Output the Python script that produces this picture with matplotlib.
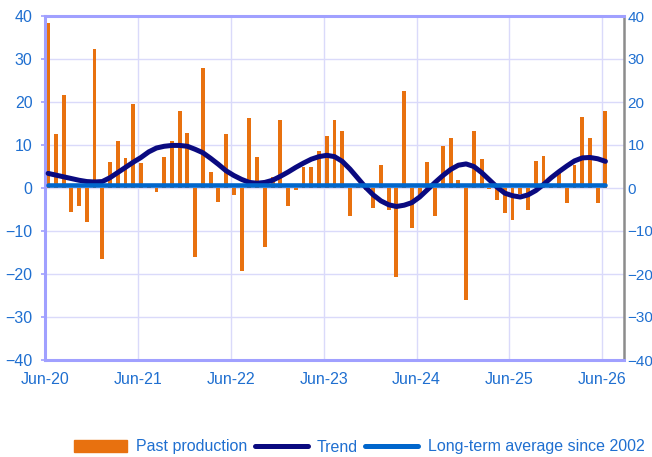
import matplotlib.pyplot as plt
import numpy as np
from matplotlib.patches import Patch
from matplotlib.lines import Line2D

plt.rcParams['font.family'] = ['Liberation Sans', 'DejaVu Sans']

# monthly values, Jun-20 .. Jun-26
production = [38.4, 12.5, 21.7, -5.5, -4.3, -7.8, 32.3, -16.6, 6.0, 10.9,
              7.0, 19.5, 5.7, 0.8, -1.0, 7.2, 10.9, 18.0, 12.8, -16.0,
              27.8, 3.7, -3.3, 12.5, -1.7, -19.4, 16.2, 7.2, -13.8, 2.6,
              15.9, -4.3, -0.5, 4.9, 4.9, 8.6, 12.0, 15.9, 13.2, -6.6,
              0.4, -0.4, -4.6, 5.3, -5.1, -20.8, 22.5, -9.2, -2.3, 6.0,
              -6.6, 9.7, 11.6, 1.8, -26.0, 13.2, 6.7, -0.3, -2.9, -5.8,
              -7.4, -1.5, -5.2, 6.3, 7.5, 0.5, 3.7, -3.5, 5.3, 16.5,
              11.6, -3.5, 18.0]
trend = [3.4, 3.0, 2.6, 2.2, 1.8, 1.5, 1.4, 1.5, 2.4, 3.6,
         4.8, 6.0, 7.1, 8.4, 9.3, 9.7, 9.9, 9.9, 9.7, 9.0,
         8.2, 6.9, 5.5, 4.0, 2.9, 2.0, 1.3, 1.1, 1.3, 1.8,
         2.7, 3.7, 4.8, 5.8, 6.7, 7.3, 7.6, 7.3, 6.2, 4.4,
         2.3, 0.2, -1.6, -3.0, -3.9, -4.3, -4.0, -3.4, -2.1, -0.4,
         1.3, 2.9, 4.3, 5.3, 5.6, 5.0, 3.6, 1.9, 0.2, -1.2,
         -1.8, -2.1, -1.6, -0.6, 0.8, 2.4, 3.8, 5.1, 6.3, 7.0,
         7.1, 6.8, 6.2]
long_term_avg = 0.7
tick_labels = ["Jun-20", "Jun-21", "Jun-22", "Jun-23", "Jun-24", "Jun-25", "Jun-26"]

orange = '#E8710F'
navy = '#0A0A80'
blue = '#0066CC'
lav = '#A0A0FF'
txt = '#1F6FD0'
fs = 11.5

x = np.arange(len(production)) + 0.4

fig = plt.figure(figsize=(6.52, 4.57), dpi=100)
ax = fig.add_axes([45/652, 1-360/457, (624-45)/652, (360-16)/457])

ax.bar(x, production, width=0.5, color=orange, zorder=2)
ax.plot(x, trend, color=navy, lw=3.6, solid_capstyle='round', zorder=3)
ax.plot(x, [long_term_avg]*len(x), color=blue, lw=3.3, solid_capstyle='round', zorder=4)

ax.set_xlim(0, 74.8)
ax.set_ylim(-40, 40)
ax.set_yticks(range(-40, 41, 10))
ax.set_xticks(range(0, 73, 12))
ax.set_xticklabels(tick_labels)
ax.grid(True, color='#DADAFA', lw=1, zorder=0)
ax.set_axisbelow(True)

for s in ['left', 'top', 'bottom']:
    ax.spines[s].set_color(lav)
    ax.spines[s].set_linewidth(2.2)
ax.spines['right'].set_color('#8C8C8C')
ax.spines['right'].set_linewidth(1.8)

ax.tick_params(axis='x', length=0, pad=9, labelsize=fs, labelcolor=txt)
ax.tick_params(axis='y', length=3, width=1.2, color=lav, pad=6, labelsize=fs, labelcolor=txt)

# right-hand copy of the value axis
ax2 = ax.twinx()
ax2.set_ylim(-40, 40)
ax2.set_yticks(range(-40, 41, 10))
ax2.tick_params(axis='y', length=0, pad=2.5, labelsize=11, labelcolor=txt)
for s in ax2.spines.values():
    s.set_visible(False)

handles = [Patch(color=orange),
           Line2D([], [], color=navy, lw=3.6, solid_capstyle='round'),
           Line2D([], [], color=blue, lw=3.6, solid_capstyle='round')]
labels = ["Past production", "Trend", "Long-term average since 2002"]
fig.legend(handles, labels, loc='center', bbox_to_anchor=(0.551, 1-447/457), ncol=3,
           frameon=False, fontsize=fs, handlelength=3.3, handletextpad=0.6,
           columnspacing=0.45, labelcolor=txt)

fig.savefig('out.png', dpi=100)
